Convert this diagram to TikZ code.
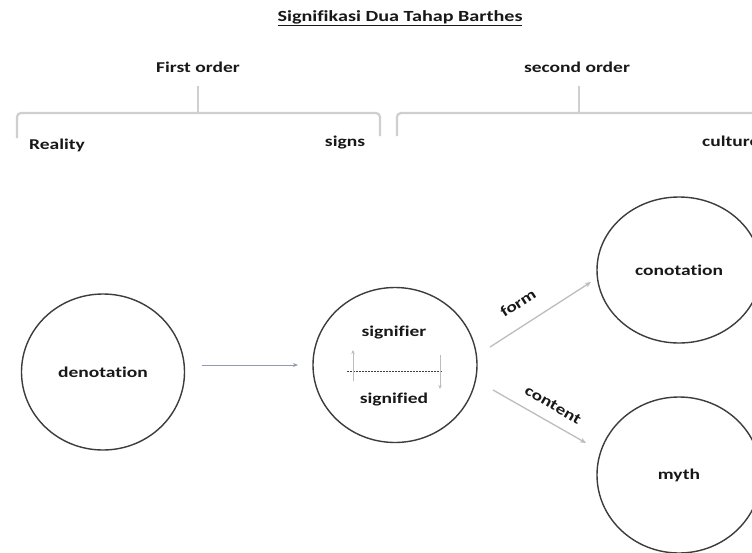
\documentclass[tikz,border=0pt]{standalone}
\usepackage{fontspec}
\setmainfont[FakeStretch=1.3,Ligatures=NoCommon]{Carlito}
\usetikzlibrary{arrows.meta,shapes.geometric}
\definecolor{txt}{HTML}{181818}
\definecolor{ring}{HTML}{3C3C3C}
\definecolor{brace}{HTML}{CFCFCF}
\definecolor{arrgrey}{HTML}{BDBDBD}
\definecolor{arrblue}{HTML}{8E9BB0}
\begin{document}
\begin{tikzpicture}[x=1pt,y=-1pt,
  lbl/.style={text=txt,font=\bfseries\fontsize{15}{18}\selectfont,inner sep=0pt},
  ring/.style={ellipse,draw=ring,line width=1.4pt,inner sep=0pt,text=txt,
     font=\bfseries\fontsize{15}{18}\selectfont},
  bracepath/.style={draw=brace,line width=2.2pt,rounded corners=4pt},
  conn/.style={draw=arrgrey,line width=1.3pt,-{Stealth[length=6pt,width=5pt]}},
  small/.style={draw=arrgrey,line width=1pt,-{Stealth[length=4pt,width=3.5pt]}}]
\useasboundingbox (0,0) rectangle (752,552);
\clip (0,0) rectangle (752,552);
\fill[white] (0,0) rectangle (752,552);
% title
\node[lbl,font=\bfseries\fontsize{15.5}{18}\selectfont] (title) at (400,18) {\underline{Signifikasi Dua Tahap Barthes}};
\node[lbl] (first) at (198,67) {First order};
\node[lbl] (second) at (577,67) {second order};
% braces
\path[bracepath] (17,138) -- (17,113) -- (380,113) -- (380,136);
\coordinate (t1) at (198,113);
\draw[brace,line width=2pt] (t1) -- (198,86);
\path[bracepath] (397,136) -- (397,113) -- (770,113);
\coordinate (t2) at (579,113);
\draw[brace,line width=2pt] (t2) -- (579,86);
\node[lbl,anchor=west] (reality) at (29,145) {Reality};
\node[lbl] (signs) at (345,143) {signs};
\node[lbl,anchor=west] (culture) at (702,141) {culture};
% circles
\node[ring,minimum width=163pt,minimum height=156pt] (den) at (103,372) {denotation};
\node[ring,minimum width=164pt,minimum height=155pt] (sig) at (395,365) {};
\node[ring,minimum width=164pt,minimum height=146pt] (con) at (679,270) {\raisebox{-8pt}{conotation}};
\node[ring,minimum width=164pt,minimum height=156pt] (myth) at (679,475) {myth};
% inside signifier circle
\node[lbl] (sfr) at (394,333) {signifier};
\node[lbl] (sfd) at (394,400) {signified};
\coordinate (dl) at (347,371);
\coordinate (dr) at (442,371);
\draw[draw=ring,line width=1pt,dash pattern=on 1.5pt off 1.5pt] (dl) -- (dr);
\coordinate (ua) at (353,381);
\coordinate (ub) at (353,350);
\draw[small] (ua) -- (ub);
\coordinate (da) at (440,355);
\coordinate (db) at (440,389);
\draw[small] (da) -- (db);
% connectors
\coordinate (d1) at (202,365);
\coordinate (d2) at (298,365);
\draw[draw=arrblue,line width=1pt,-{Stealth[length=5pt,width=4pt]}] (d1) -- (d2);
\coordinate (f1) at (490,347);
\coordinate (f2) at (591,282);
\draw[conn] (f1) -- (f2);
\coordinate (c1) at (493,390);
\coordinate (c2) at (586,443);
\draw[conn] (c1) -- (c2);
\node[lbl,rotate=33] (form) at (518,303) {form};
\node[lbl,rotate=-30] (content) at (553,405) {content};
\end{tikzpicture}
\end{document}
